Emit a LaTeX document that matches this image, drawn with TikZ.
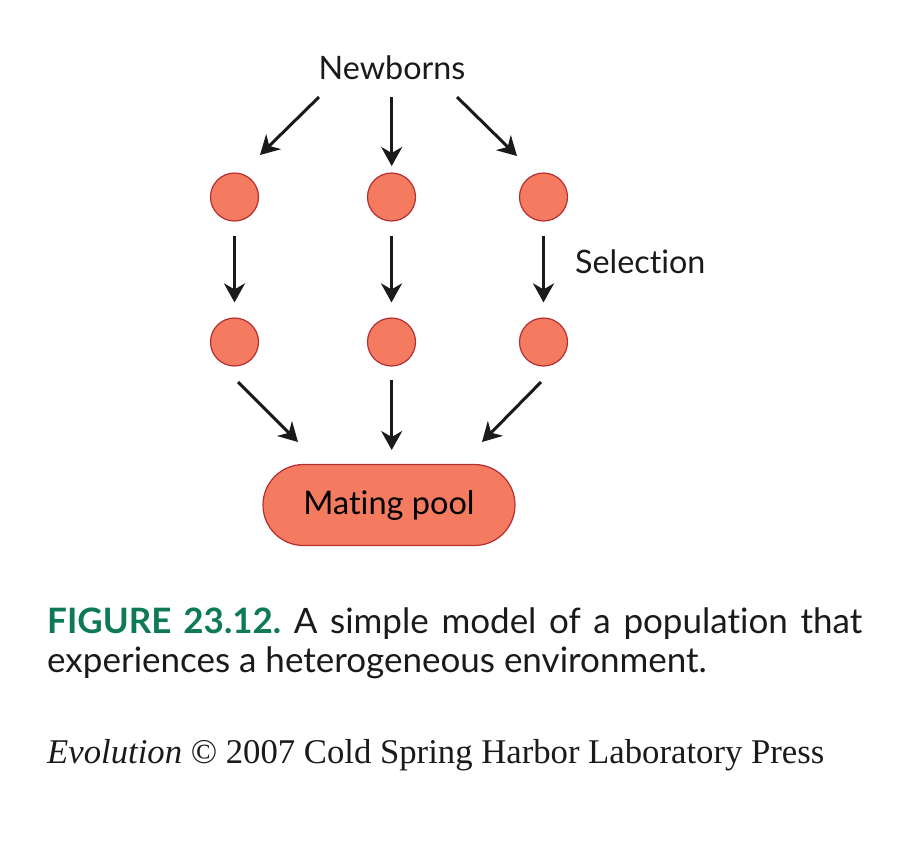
\documentclass[tikz,border=0pt]{standalone}
\usepackage{fontspec}
\setmainfont{Lato}[Ligatures={NoCommon,NoRequired}]
\newfontfamily\serifcap{Liberation Serif}
\usetikzlibrary{arrows.meta,shapes.misc}
\definecolor{dotfill}{HTML}{F47A60}
\definecolor{dotline}{HTML}{B52E32}
\definecolor{capgreen}{HTML}{0E7A55}
\definecolor{arrowblack}{HTML}{1A1A1A}
\tikzset{
  dot/.style={circle, draw=dotline, fill=dotfill, line width=1.2pt, minimum size=48pt, inner sep=0pt},
  pool/.style={rounded rectangle, draw=dotline, fill=dotfill, line width=1.2pt, minimum width=252pt, minimum height=81pt, inner sep=0pt, font=\fontsize{32.5}{38}\selectfont},
  lbl/.style={inner sep=0pt, font=\fontsize{32.3}{38}\selectfont, text=arrowblack},
  arr/.style={draw=arrowblack, line width=3pt, -{Stealth[length=19pt,width=21pt,inset=6pt]}},
  captxt/.style={inner sep=0pt, anchor=base west, font=\fontsize{35}{40}\selectfont, text=arrowblack}
}
\begin{document}
\frenchspacing
\begin{tikzpicture}[x=1pt,y=-1pt]
\useasboundingbox (0,0) rectangle (924,852);
% nodes
\node[lbl, anchor=base] (newb) at (392,79) {Newborns};
\node[dot] (a1) at (234.5,197) {};
\node[dot] (b1) at (391.5,197) {};
\node[dot] (c1) at (543.5,197) {};
\node[dot] (a2) at (234.5,342) {};
\node[dot] (b2) at (391.5,342) {};
\node[dot] (c2) at (543.5,342) {};
\node[lbl, anchor=base west] (sel) at (575,273) {Selection};
\node[pool] (pool) at (389,505) {Mating pool};
% arrow end coordinates
\coordinate (na0) at (319,97);  \coordinate (na1) at (260,155);
\coordinate (nb0) at (391.7,97); \coordinate (nb1) at (391.7,166);
\coordinate (nc0) at (457,97);  \coordinate (nc1) at (517,156);
\coordinate (pa0) at (238,382); \coordinate (pa1) at (298,442);
\coordinate (pb0) at (391.7,380); \coordinate (pb1) at (391.7,450);
\coordinate (pc0) at (541,382); \coordinate (pc1) at (482,442);
% arrows
\draw[arr] (na0) -- (na1);
\draw[arr] (nb0) -- (nb1);
\draw[arr] (nc0) -- (nc1);
\draw[arr, shorten <=14pt, shorten >=15pt] (a1) -- (a2);
\draw[arr, shorten <=14pt, shorten >=15pt] (b1) -- (b2);
\draw[arr, shorten <=14pt, shorten >=15pt] (c1) -- (c2);
\draw[arr] (pa0) -- (pa1);
\draw[arr] (pb0) -- (pb1);
\draw[arr] (pc0) -- (pc1);
% caption
\node[captxt] (cap1) at (47,633) {\makebox[815pt][s]{\textcolor{capgreen}{\bfseries FIGURE 23.12.} A simple model of a population that}};
\node[captxt] (cap2) at (47,672) {experiences a heterogeneous environment.};
\node[captxt, font=\fontsize{34.7}{40}\selectfont\serifcap] (credit) at (47,763) {\textit{Evolution} © 2007 Cold Spring Harbor Laboratory Press};
\end{tikzpicture}
\end{document}
